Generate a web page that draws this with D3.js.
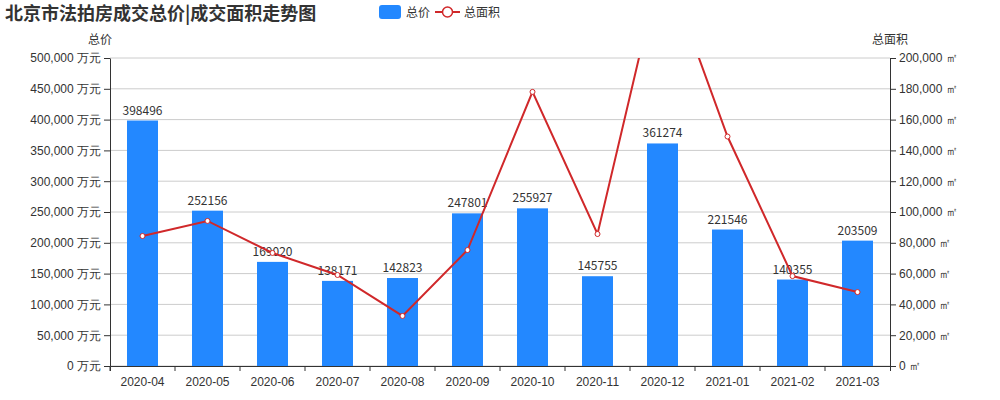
<!DOCTYPE html>
<html><head><meta charset="utf-8">
<script src="https://cdn.jsdelivr.net/npm/d3@7"></script>
<style>body{margin:0;background:#fff;font-family:"Noto Sans CJK SC","Noto Sans",sans-serif;}</style>
</head><body>
<script>
var months = ["2020-04","2020-05","2020-06","2020-07","2020-08","2020-09","2020-10","2020-11","2020-12","2021-01","2021-02","2021-03"];
var totalPrice = [398496,252156,169020,138171,142823,247801,255927,145755,361274,221546,140355,203509];
var totalArea = [84400,94200,73400,59100,32500,75300,178000,85700,265000,149000,58400,48000];
var leftTicks = [0,50000,100000,150000,200000,250000,300000,350000,400000,450000,500000];
var rightTicks = [0,20000,40000,60000,80000,100000,120000,140000,160000,180000,200000];

var svg = d3.select("body").append("svg").attr("width",1000).attr("height",400);
var mLeft = 110, mRight = 890, mTop = 58, mBottom = 366;

var x = d3.scaleBand().domain(months).range([mLeft,mRight]);
var yL = d3.scaleLinear().domain([0,500000]).range([mBottom,mTop]);
var yR = d3.scaleLinear().domain([0,200000]).range([mBottom,mTop]);
var fmt = d3.format(",");

// grid
svg.append("g").selectAll("line").data(leftTicks).enter().append("line")
   .attr("x1",mLeft).attr("x2",mRight)
   .attr("y1",function(d){return yL(d);}).attr("y2",function(d){return yL(d);})
   .attr("stroke","#ccc");

// axes
var ax = svg.append("g").attr("transform","translate(0,"+mBottom+")")
   .call(d3.axisBottom(x).tickSizeOuter(0).tickSize(5));
ax.selectAll("text").attr("font-size",12).attr("fill","#333").attr("dy","1em");
ax.select(".domain").attr("stroke","#333");
ax.selectAll(".tick line").attr("transform","translate("+(-x.bandwidth()/2)+",0)").attr("stroke","#333");

var ayl = svg.append("g").attr("transform","translate("+mLeft+",0)")
   .call(d3.axisLeft(yL).tickValues(leftTicks).tickFormat(function(d){return fmt(d)+" 万元";}).tickSizeOuter(0));
ayl.selectAll("text").attr("font-size",12).attr("fill","#333");
ayl.selectAll("line,path").attr("stroke","#333");

var ayr = svg.append("g").attr("transform","translate("+mRight+",0)")
   .call(d3.axisRight(yR).tickValues(rightTicks).tickFormat(function(d){return fmt(d)+" ㎡";}).tickSizeOuter(0));
ayr.selectAll("text").attr("font-size",12).attr("fill","#333");
ayr.selectAll("line,path").attr("stroke","#333");

// bars
var bw = 31;
svg.append("g").selectAll("rect").data(totalPrice).enter().append("rect")
   .attr("x",function(d,i){return x(months[i])+x.bandwidth()/2-bw/2;})
   .attr("y",function(d){return yL(d);})
   .attr("width",bw).attr("height",function(d){return mBottom-yL(d);})
   .attr("fill","#2388ff");
svg.append("g").selectAll("text").data(totalPrice).enter().append("text")
   .attr("x",function(d,i){return x(months[i])+x.bandwidth()/2;})
   .attr("y",function(d){return yL(d)-6;})
   .attr("text-anchor","middle").attr("font-size",12).attr("fill","#333")
   .text(function(d){return d;});

// line
svg.append("clipPath").attr("id","clip").append("rect")
   .attr("x",mLeft).attr("y",mTop).attr("width",mRight-mLeft).attr("height",mBottom-mTop);
var g = svg.append("g").attr("clip-path","url(#clip)");
var line = d3.line().x(function(d,i){return x(months[i])+x.bandwidth()/2;}).y(function(d){return yR(d);});
g.append("path").datum(totalArea).attr("d",line).attr("fill","none").attr("stroke","#d0282a").attr("stroke-width",2);
g.selectAll("circle").data(totalArea).enter().append("circle")
   .attr("cx",function(d,i){return x(months[i])+x.bandwidth()/2;})
   .attr("cy",function(d){return yR(d);})
   .attr("r",2.5).attr("fill","#fff").attr("stroke","#d0282a").attr("stroke-width",1);

// titles
svg.append("text").text("北京市法拍房成交总价|成交面积走势图").attr("x",5).attr("y",20)
   .attr("font-size",18).attr("font-weight","bold").attr("fill","#333");
svg.append("text").text("总价").attr("x",100).attr("y",44).attr("font-size",12).attr("fill","#333").attr("text-anchor","middle");
svg.append("text").text("总面积").attr("x",890).attr("y",44).attr("font-size",12).attr("fill","#333").attr("text-anchor","middle");

// legend
svg.append("rect").attr("x",379).attr("y",5).attr("width",22).attr("height",14).attr("rx",3).attr("fill","#2388ff");
svg.append("text").text("总价").attr("x",406).attr("y",17).attr("font-size",12).attr("fill","#333");
svg.append("line").attr("x1",435).attr("x2",460).attr("y1",12).attr("y2",12).attr("stroke","#d0282a").attr("stroke-width",2);
svg.append("circle").attr("cx",447.5).attr("cy",12).attr("r",5).attr("fill","#fff").attr("stroke","#d0282a").attr("stroke-width",1.5);
svg.append("text").text("总面积").attr("x",464).attr("y",17).attr("font-size",12).attr("fill","#333");
</script>
</body></html>
